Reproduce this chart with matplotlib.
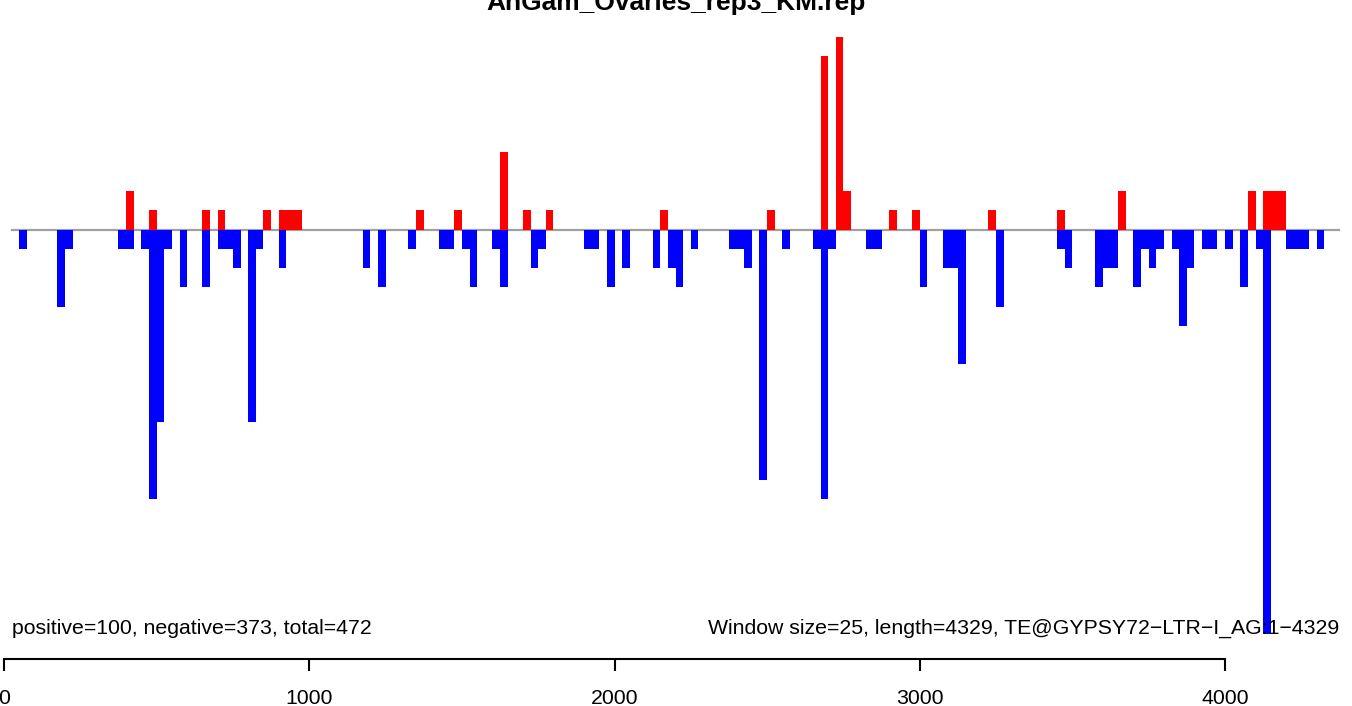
import matplotlib
matplotlib.use("Agg")
import matplotlib.pyplot as plt

plt.rcParams['font.family'] = ['Liberation Sans', 'DejaVu Sans']

# window starts (bp) and read counts, window size 25
pos_start = [400, 475, 650, 700, 850, 900, 925, 950, 1350, 1475, 1625, 1700, 1775,
             2150, 2500, 2675, 2725, 2750, 2900, 2975, 3225, 3450, 3650, 4075,
             4125, 4150, 4175]
pos_val = [2, 1, 1, 1, 1, 1, 1, 1, 1, 1, 4, 1, 1,
           1, 1, 9, 10, 2, 1, 1, 1, 1, 2, 2,
           2, 2, 2]

neg_start = [50, 175, 200, 375, 400, 450, 475, 500, 525, 575, 650, 700, 725, 750, 800, 825, 900,
             1175, 1225, 1325, 1425, 1450, 1500, 1525, 1600, 1625, 1725, 1750, 1900, 1925, 1975,
             2025, 2125, 2175, 2200, 2250, 2375, 2400, 2425, 2475, 2550, 2650, 2675, 2700, 2825, 2850,
             3000, 3075, 3100, 3125, 3250, 3450, 3475, 3575, 3600, 3625, 3700, 3725, 3750, 3775,
             3825, 3850, 3875, 3925, 3950, 4000, 4050, 4100, 4125, 4200, 4225, 4250, 4300]
neg_val = [-1, -4, -1, -1, -1, -1, -14, -10, -1, -3, -3, -1, -1, -2, -10, -1, -2,
           -2, -3, -1, -1, -1, -1, -3, -1, -3, -2, -1, -1, -1, -3,
           -2, -2, -2, -3, -1, -1, -1, -2, -13, -1, -1, -14, -1, -1, -1,
           -3, -2, -2, -7, -4, -1, -2, -3, -2, -2, -3, -1, -2, -1,
           -1, -5, -2, -1, -1, -1, -3, -1, -21, -1, -1, -1, -1]

window = 25
title = "AnGam_Ovaries_rep3_KM.rep"
left_note = "positive=100, negative=373, total=472"
right_note = "Window size=25, length=4329, TE@GYPSY72\u2212LTR\u2212I_AG:1\u22124329"
xticks = [0, 1000, 2000, 3000, 4000]

W, H = 1352, 706
fig = plt.figure(figsize=(W / 100, H / 100), dpi=100)

# pixel scale
ppx = 0.30525      # px per bp
x0 = 4             # px of position 0
unit = 19.28       # px per count
base = 229.5       # px of zero line

ax = fig.add_axes([0, 0, 1, 1])
ax.set_xlim(-x0 / ppx, (W - x0) / ppx)
ax.set_ylim(-(H - base) / unit, base / unit)
ax.axis('off')

ax.plot([25, 4375], [0, 0], color='#a0a0a0', lw=1.6, zorder=1)
ax.bar(pos_start, pos_val, width=window, align='edge', color='#ff0000', linewidth=0, zorder=3)
ax.bar(neg_start, neg_val, width=window, align='edge', color='#0000ff', linewidth=0, zorder=3)

# x axis
axx = fig.add_axes([0, 1 - 659 / H, 1, 0.001])
axx.set_xlim(ax.get_xlim())
axx.patch.set_visible(False)
for s in ['top', 'left', 'right']:
    axx.spines[s].set_visible(False)
axx.spines['bottom'].set_bounds(0, 4000)
axx.spines['bottom'].set_linewidth(1.5)
axx.set_yticks([])
axx.set_xticks(xticks)
axx.tick_params(axis='x', length=8.6, width=1.5, pad=13, labelsize=15.3)

fig.text(676 / W, 1 - 10 / H, title, ha='center', va='baseline',
         fontsize=19, fontweight='bold')
fig.text(12 / W, 1 - 634 / H, left_note, ha='left', va='baseline', fontsize=15.3, zorder=0)
fig.text(1339 / W, 1 - 634 / H, right_note, ha='right', va='baseline', fontsize=15.3, zorder=0)

fig.savefig('out.png', dpi=100)
